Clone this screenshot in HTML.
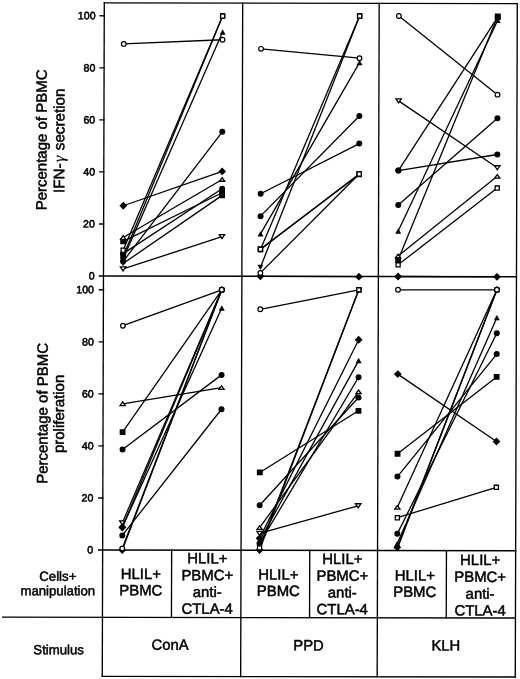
<!DOCTYPE html><html><head><meta charset="utf-8"><style>html,body{margin:0;padding:0;background:#fff;width:520px;height:679px;overflow:hidden}svg{display:block;font-family:"Liberation Sans",sans-serif;filter:grayscale(1)}</style></head><body><svg width="520" height="679" viewBox="0 0 520 679"><rect width="520" height="679" fill="#fff"/><g transform="matrix(1,0.0018,-0.003,1,0,-0.1872)"><g stroke="#000" stroke-width="1.35" fill="none" stroke-linecap="square"><line x1="104.3" y1="2.9" x2="517.3" y2="2.9"/><line x1="104.3" y1="2.9" x2="104.3" y2="676.3"/><line x1="242.7" y1="2.9" x2="242.7" y2="676.3"/><line x1="379.2" y1="2.9" x2="379.2" y2="676.3"/><line x1="517.3" y1="2.9" x2="517.3" y2="676.3"/><line x1="100.3" y1="276.0" x2="517.3" y2="276.0"/><line x1="100.3" y1="550.0" x2="517.3" y2="550.0"/><line x1="4.5" y1="617.3" x2="517.3" y2="617.3"/><line x1="104.3" y1="676.3" x2="517.3" y2="676.3"/><line x1="173.3" y1="550.0" x2="173.3" y2="617.3"/><line x1="311.4" y1="550.0" x2="311.4" y2="617.3"/><line x1="448.1" y1="550.0" x2="448.1" y2="617.3"/><line x1="100.3" y1="223.96" x2="104.3" y2="223.96"/><line x1="100.3" y1="171.92" x2="104.3" y2="171.92"/><line x1="100.3" y1="119.88" x2="104.3" y2="119.88"/><line x1="100.3" y1="67.84" x2="104.3" y2="67.84"/><line x1="100.3" y1="15.80" x2="104.3" y2="15.80"/><line x1="100.3" y1="497.96" x2="104.3" y2="497.96"/><line x1="100.3" y1="445.92" x2="104.3" y2="445.92"/><line x1="100.3" y1="393.88" x2="104.3" y2="393.88"/><line x1="100.3" y1="341.84" x2="104.3" y2="341.84"/><line x1="100.3" y1="289.80" x2="104.3" y2="289.80"/></g><g font-family="Liberation Sans" fill="#000" stroke="#000" stroke-width="0.5"><text x="95.6" y="279.60" text-anchor="end" font-size="10.6" stroke-width="0.55">0</text><text x="95.6" y="227.56" text-anchor="end" font-size="10.6" stroke-width="0.55">20</text><text x="95.6" y="175.52" text-anchor="end" font-size="10.6" stroke-width="0.55">40</text><text x="95.6" y="123.48" text-anchor="end" font-size="10.6" stroke-width="0.55">60</text><text x="95.6" y="71.44" text-anchor="end" font-size="10.6" stroke-width="0.55">80</text><text x="95.6" y="19.40" text-anchor="end" font-size="10.6" stroke-width="0.55">100</text><text x="94.9" y="553.60" text-anchor="end" font-size="10.6" stroke-width="0.55">0</text><text x="94.9" y="501.56" text-anchor="end" font-size="10.6" stroke-width="0.55">20</text><text x="94.9" y="449.52" text-anchor="end" font-size="10.6" stroke-width="0.55">40</text><text x="94.9" y="397.48" text-anchor="end" font-size="10.6" stroke-width="0.55">60</text><text x="94.9" y="345.44" text-anchor="end" font-size="10.6" stroke-width="0.55">80</text><text x="94.9" y="293.40" text-anchor="end" font-size="10.6" stroke-width="0.55">100</text><text transform="translate(47.1,140) rotate(-90)" text-anchor="middle" font-size="15">Percentage of PBMC</text><text transform="translate(64.8,140.9) rotate(-90)" text-anchor="middle" font-size="15.2">IFN-<tspan dx="1.6" font-family="Liberation Serif" font-style="italic" font-size="16" stroke-width="0.2">&#947;</tspan><tspan dx="1.2"> secretion</tspan></text><text transform="translate(48.8,413.5) rotate(-90)" text-anchor="middle" font-size="15">Percentage of PBMC</text><text transform="translate(65.2,414) rotate(-90)" text-anchor="middle" font-size="15">proliferation</text><text x="59.6" y="580.8" text-anchor="middle" font-size="13.2">Cells+</text><text x="59.6" y="595.4" text-anchor="middle" font-size="13.2">manipulation</text><text x="142.60" y="579.00" text-anchor="middle" font-size="14.9">HLIL+</text><text x="142.60" y="595.30" text-anchor="middle" font-size="14.9">PBMC</text><text x="280.15" y="579.30" text-anchor="middle" font-size="14.9">HLIL+</text><text x="280.15" y="595.60" text-anchor="middle" font-size="14.9">PBMC</text><text x="416.55" y="580.00" text-anchor="middle" font-size="14.9">HLIL+</text><text x="416.55" y="596.30" text-anchor="middle" font-size="14.9">PBMC</text><text x="209.00" y="563.20" text-anchor="middle" font-size="14.9">HLIL+</text><text x="209.00" y="580.00" text-anchor="middle" font-size="14.9">PBMC+</text><text x="209.00" y="596.80" text-anchor="middle" font-size="14.9">anti-</text><text x="209.00" y="613.60" text-anchor="middle" font-size="14.9">CTLA-4</text><text x="344.10" y="563.50" text-anchor="middle" font-size="14.9">HLIL+</text><text x="344.10" y="580.30" text-anchor="middle" font-size="14.9">PBMC+</text><text x="344.10" y="597.10" text-anchor="middle" font-size="14.9">anti-</text><text x="344.10" y="613.90" text-anchor="middle" font-size="14.9">CTLA-4</text><text x="481.90" y="564.40" text-anchor="middle" font-size="14.9">HLIL+</text><text x="481.90" y="581.20" text-anchor="middle" font-size="14.9">PBMC+</text><text x="481.90" y="598.00" text-anchor="middle" font-size="14.9">anti-</text><text x="481.90" y="614.80" text-anchor="middle" font-size="14.9">CTLA-4</text><text x="60.6" y="654.3" text-anchor="middle" font-size="13.2">Stimulus</text><text x="172.00" y="649.7" text-anchor="middle" font-size="14.8">ConA</text><text x="310.45" y="650.0" text-anchor="middle" font-size="14.8">PPD</text><text x="447.75" y="650.0" text-anchor="middle" font-size="14.8">KLH</text></g></g><g transform="matrix(1,0,-0.003,1,0,0)"><g stroke="#000" stroke-width="1.3" fill="none"><line x1="123.9" y1="43.90" x2="222.7" y2="39.74"/><line x1="123.9" y1="205.75" x2="222.7" y2="171.40"/><line x1="123.9" y1="237.49" x2="222.7" y2="179.47"/><line x1="123.9" y1="241.39" x2="222.7" y2="192.74"/><line x1="123.9" y1="253.62" x2="222.7" y2="188.83"/><line x1="123.9" y1="250.24" x2="222.7" y2="16.06"/><line x1="123.9" y1="256.49" x2="222.7" y2="16.06"/><line x1="123.9" y1="258.83" x2="222.7" y2="31.93"/><line x1="123.9" y1="261.43" x2="222.7" y2="131.85"/><line x1="123.9" y1="263.51" x2="222.7" y2="195.34"/><line x1="123.9" y1="268.97" x2="222.7" y2="236.71"/><line x1="261.2" y1="48.85" x2="359.7" y2="58.21"/><line x1="261.2" y1="193.78" x2="359.7" y2="143.56"/><line x1="261.2" y1="216.15" x2="359.7" y2="115.98"/><line x1="261.2" y1="233.85" x2="359.7" y2="62.64"/><line x1="261.2" y1="249.46" x2="359.7" y2="174.00"/><line x1="261.2" y1="248.94" x2="359.7" y2="174.52"/><line x1="261.2" y1="249.46" x2="359.7" y2="16.06"/><line x1="261.2" y1="267.41" x2="359.7" y2="16.06"/><line x1="261.2" y1="272.88" x2="359.7" y2="174.00"/><line x1="261.2" y1="276.31" x2="359.7" y2="276.65"/><line x1="398.9" y1="16.06" x2="497.8" y2="94.64"/><line x1="398.9" y1="100.89" x2="497.8" y2="167.76"/><line x1="398.9" y1="170.62" x2="497.8" y2="154.49"/><line x1="398.9" y1="170.62" x2="497.8" y2="17.10"/><line x1="398.9" y1="204.97" x2="497.8" y2="118.32"/><line x1="398.9" y1="230.99" x2="497.8" y2="20.22"/><line x1="398.9" y1="255.96" x2="497.8" y2="176.34"/><line x1="398.9" y1="259.87" x2="497.8" y2="16.32"/><line x1="398.9" y1="264.81" x2="497.8" y2="188.05"/><line x1="398.9" y1="276.52" x2="497.8" y2="276.86"/><line x1="123.9" y1="325.71" x2="222.7" y2="289.80"/><line x1="123.9" y1="403.77" x2="222.7" y2="387.64"/><line x1="123.9" y1="432.13" x2="222.7" y2="289.80"/><line x1="123.9" y1="449.56" x2="222.7" y2="374.89"/><line x1="123.9" y1="522.94" x2="222.7" y2="289.80"/><line x1="123.9" y1="527.36" x2="222.7" y2="289.80"/><line x1="123.9" y1="527.36" x2="222.7" y2="308.01"/><line x1="123.9" y1="535.43" x2="222.7" y2="409.23"/><line x1="123.9" y1="550.00" x2="222.7" y2="289.80"/><line x1="123.9" y1="548.44" x2="222.7" y2="289.80"/><line x1="261.2" y1="309.32" x2="359.7" y2="289.80"/><line x1="261.2" y1="472.46" x2="359.7" y2="410.79"/><line x1="261.2" y1="505.25" x2="359.7" y2="397.52"/><line x1="261.2" y1="527.62" x2="359.7" y2="391.80"/><line x1="261.2" y1="533.35" x2="359.7" y2="505.77"/><line x1="261.2" y1="538.29" x2="359.7" y2="339.76"/><line x1="261.2" y1="540.89" x2="359.7" y2="360.57"/><line x1="261.2" y1="543.50" x2="359.7" y2="377.23"/><line x1="261.2" y1="550.00" x2="359.7" y2="289.80"/><line x1="261.2" y1="547.92" x2="359.7" y2="289.80"/><line x1="398.9" y1="289.80" x2="497.8" y2="289.80"/><line x1="398.9" y1="374.10" x2="497.8" y2="441.50"/><line x1="398.9" y1="453.73" x2="497.8" y2="376.97"/><line x1="398.9" y1="476.62" x2="497.8" y2="354.07"/><line x1="398.9" y1="507.33" x2="497.8" y2="289.80"/><line x1="398.9" y1="517.74" x2="497.8" y2="487.29"/><line x1="398.9" y1="533.87" x2="497.8" y2="333.25"/><line x1="398.9" y1="543.50" x2="497.8" y2="317.64"/><line x1="398.9" y1="547.40" x2="497.8" y2="289.80"/><line x1="398.9" y1="548.70" x2="497.8" y2="289.80"/></g><polygon points="123.90,201.85 127.80,205.75 123.90,209.65 120.00,205.75" fill="#000"/><polygon points="222.70,167.50 226.60,171.40 222.70,175.30 218.80,171.40" fill="#000"/><rect x="121.00" y="238.49" width="5.80" height="5.80" fill="#000"/><rect x="219.80" y="189.84" width="5.80" height="5.80" fill="#000"/><circle cx="123.90" cy="253.62" r="3.00" fill="#000"/><circle cx="222.70" cy="188.83" r="3.00" fill="#000"/><rect x="121.00" y="253.59" width="5.80" height="5.80" fill="#000"/><polygon points="123.90,256.13 126.90,261.53 120.90,261.53" fill="#000"/><polygon points="222.70,29.23 225.70,34.63 219.70,34.63" fill="#000"/><circle cx="123.90" cy="261.43" r="3.00" fill="#000"/><circle cx="222.70" cy="131.85" r="3.00" fill="#000"/><polygon points="123.90,266.21 126.90,260.81 120.90,260.81" fill="#000"/><rect x="219.80" y="192.44" width="5.80" height="5.80" fill="#000"/><circle cx="261.20" cy="193.78" r="3.00" fill="#000"/><circle cx="359.70" cy="143.56" r="3.00" fill="#000"/><circle cx="261.20" cy="216.15" r="3.00" fill="#000"/><circle cx="359.70" cy="115.98" r="3.00" fill="#000"/><polygon points="261.20,231.15 264.20,236.55 258.20,236.55" fill="#000"/><polygon points="359.70,59.94 362.70,65.34 356.70,65.34" fill="#000"/><polygon points="261.20,270.11 264.20,264.71 258.20,264.71" fill="#000"/><polygon points="261.20,272.41 265.10,276.31 261.20,280.21 257.30,276.31" fill="#000"/><polygon points="359.70,272.75 363.60,276.65 359.70,280.55 355.80,276.65" fill="#000"/><circle cx="398.90" cy="170.62" r="3.00" fill="#000"/><circle cx="497.80" cy="154.49" r="3.00" fill="#000"/><circle cx="398.90" cy="170.62" r="3.00" fill="#000"/><rect x="494.90" y="14.20" width="5.80" height="5.80" fill="#000"/><circle cx="398.90" cy="204.97" r="3.00" fill="#000"/><circle cx="497.80" cy="118.32" r="3.00" fill="#000"/><polygon points="398.90,228.29 401.90,233.69 395.90,233.69" fill="#000"/><polygon points="497.80,17.52 500.80,22.92 494.80,22.92" fill="#000"/><rect x="396.00" y="256.97" width="5.80" height="5.80" fill="#000"/><rect x="494.90" y="13.42" width="5.80" height="5.80" fill="#000"/><polygon points="398.90,272.62 402.80,276.52 398.90,280.42 395.00,276.52" fill="#000"/><polygon points="497.80,272.96 501.70,276.86 497.80,280.76 493.90,276.86" fill="#000"/><rect x="121.00" y="429.23" width="5.80" height="5.80" fill="#000"/><circle cx="123.90" cy="449.56" r="3.00" fill="#000"/><circle cx="222.70" cy="374.89" r="3.00" fill="#000"/><polygon points="123.90,523.46 127.80,527.36 123.90,531.26 120.00,527.36" fill="#000"/><polygon points="123.90,523.46 127.80,527.36 123.90,531.26 120.00,527.36" fill="#000"/><polygon points="222.70,305.31 225.70,310.71 219.70,310.71" fill="#000"/><circle cx="123.90" cy="535.43" r="3.00" fill="#000"/><circle cx="222.70" cy="409.23" r="3.00" fill="#000"/><polygon points="123.90,546.10 127.80,550.00 123.90,553.90 120.00,550.00" fill="#000"/><rect x="258.30" y="469.56" width="5.80" height="5.80" fill="#000"/><rect x="356.80" y="407.89" width="5.80" height="5.80" fill="#000"/><circle cx="261.20" cy="505.25" r="3.00" fill="#000"/><circle cx="359.70" cy="397.52" r="3.00" fill="#000"/><polygon points="261.20,534.39 265.10,538.29 261.20,542.19 257.30,538.29" fill="#000"/><polygon points="359.70,335.86 363.60,339.76 359.70,343.66 355.80,339.76" fill="#000"/><polygon points="261.20,538.19 264.20,543.59 258.20,543.59" fill="#000"/><polygon points="359.70,357.87 362.70,363.27 356.70,363.27" fill="#000"/><circle cx="261.20" cy="543.50" r="3.00" fill="#000"/><circle cx="359.70" cy="377.23" r="3.00" fill="#000"/><polygon points="261.20,546.10 265.10,550.00 261.20,553.90 257.30,550.00" fill="#000"/><polygon points="398.90,370.20 402.80,374.10 398.90,378.00 395.00,374.10" fill="#000"/><polygon points="497.80,437.60 501.70,441.50 497.80,445.40 493.90,441.50" fill="#000"/><rect x="396.00" y="450.83" width="5.80" height="5.80" fill="#000"/><rect x="494.90" y="374.07" width="5.80" height="5.80" fill="#000"/><circle cx="398.90" cy="476.62" r="3.00" fill="#000"/><circle cx="497.80" cy="354.07" r="3.00" fill="#000"/><circle cx="398.90" cy="533.87" r="3.00" fill="#000"/><circle cx="497.80" cy="333.25" r="3.00" fill="#000"/><polygon points="398.90,540.79 401.90,546.20 395.90,546.20" fill="#000"/><polygon points="497.80,314.94 500.80,320.34 494.80,320.34" fill="#000"/><polygon points="398.90,543.50 402.80,547.40 398.90,551.30 395.00,547.40" fill="#000"/><polygon points="398.90,551.40 401.90,546.00 395.90,546.00" fill="#000"/><circle cx="123.90" cy="43.90" r="2.35" fill="#fff" stroke="#000" stroke-width="1.2"/><circle cx="222.70" cy="39.74" r="2.35" fill="#fff" stroke="#000" stroke-width="1.2"/><polygon points="123.90,235.69 126.50,239.29 121.30,239.29" fill="#fff" stroke="#000" stroke-width="1.3" stroke-linejoin="miter"/><polygon points="222.70,177.67 225.30,181.27 220.10,181.27" fill="#fff" stroke="#000" stroke-width="1.3" stroke-linejoin="miter"/><rect x="121.85" y="248.19" width="4.10" height="4.10" fill="#fff" stroke="#000" stroke-width="1.3"/><rect x="220.65" y="14.01" width="4.10" height="4.10" fill="#fff" stroke="#000" stroke-width="1.3"/><rect x="220.65" y="14.01" width="4.10" height="4.10" fill="#fff" stroke="#000" stroke-width="1.3"/><polygon points="123.90,270.97 126.60,266.97 121.20,266.97" fill="#fff" stroke="#000" stroke-width="1.3" stroke-linejoin="miter"/><polygon points="222.70,238.71 225.40,234.71 220.00,234.71" fill="#fff" stroke="#000" stroke-width="1.3" stroke-linejoin="miter"/><circle cx="261.20" cy="48.85" r="2.35" fill="#fff" stroke="#000" stroke-width="1.2"/><circle cx="359.70" cy="58.21" r="2.35" fill="#fff" stroke="#000" stroke-width="1.2"/><rect x="259.15" y="247.41" width="4.10" height="4.10" fill="#fff" stroke="#000" stroke-width="1.3"/><rect x="357.65" y="171.95" width="4.10" height="4.10" fill="#fff" stroke="#000" stroke-width="1.3"/><rect x="259.15" y="246.89" width="4.10" height="4.10" fill="#fff" stroke="#000" stroke-width="1.3"/><rect x="357.65" y="172.47" width="4.10" height="4.10" fill="#fff" stroke="#000" stroke-width="1.3"/><rect x="259.15" y="247.41" width="4.10" height="4.10" fill="#fff" stroke="#000" stroke-width="1.3"/><rect x="357.65" y="14.01" width="4.10" height="4.10" fill="#fff" stroke="#000" stroke-width="1.3"/><rect x="357.65" y="14.01" width="4.10" height="4.10" fill="#fff" stroke="#000" stroke-width="1.3"/><circle cx="261.20" cy="272.88" r="2.35" fill="#fff" stroke="#000" stroke-width="1.2"/><rect x="357.65" y="171.95" width="4.10" height="4.10" fill="#fff" stroke="#000" stroke-width="1.3"/><circle cx="398.90" cy="16.06" r="2.35" fill="#fff" stroke="#000" stroke-width="1.2"/><circle cx="497.80" cy="94.64" r="2.35" fill="#fff" stroke="#000" stroke-width="1.2"/><polygon points="398.90,102.89 401.60,98.89 396.20,98.89" fill="#fff" stroke="#000" stroke-width="1.3" stroke-linejoin="miter"/><polygon points="497.80,169.76 500.50,165.76 495.10,165.76" fill="#fff" stroke="#000" stroke-width="1.3" stroke-linejoin="miter"/><polygon points="398.90,254.16 401.50,257.76 396.30,257.76" fill="#fff" stroke="#000" stroke-width="1.3" stroke-linejoin="miter"/><polygon points="497.80,174.54 500.40,178.14 495.20,178.14" fill="#fff" stroke="#000" stroke-width="1.3" stroke-linejoin="miter"/><rect x="396.85" y="262.76" width="4.10" height="4.10" fill="#fff" stroke="#000" stroke-width="1.3"/><rect x="495.75" y="186.00" width="4.10" height="4.10" fill="#fff" stroke="#000" stroke-width="1.3"/><circle cx="123.90" cy="325.71" r="2.35" fill="#fff" stroke="#000" stroke-width="1.2"/><circle cx="222.70" cy="289.80" r="2.35" fill="#fff" stroke="#000" stroke-width="1.2"/><polygon points="123.90,401.97 126.50,405.57 121.30,405.57" fill="#fff" stroke="#000" stroke-width="1.3" stroke-linejoin="miter"/><polygon points="222.70,385.84 225.30,389.44 220.10,389.44" fill="#fff" stroke="#000" stroke-width="1.3" stroke-linejoin="miter"/><circle cx="222.70" cy="289.80" r="2.35" fill="#fff" stroke="#000" stroke-width="1.2"/><polygon points="123.90,524.94 126.60,520.94 121.20,520.94" fill="#fff" stroke="#000" stroke-width="1.3" stroke-linejoin="miter"/><circle cx="222.70" cy="289.80" r="2.35" fill="#fff" stroke="#000" stroke-width="1.2"/><circle cx="222.70" cy="289.80" r="2.35" fill="#fff" stroke="#000" stroke-width="1.2"/><circle cx="222.70" cy="289.80" r="2.35" fill="#fff" stroke="#000" stroke-width="1.2"/><circle cx="123.90" cy="548.44" r="2.35" fill="#fff" stroke="#000" stroke-width="1.2"/><circle cx="222.70" cy="289.80" r="2.35" fill="#fff" stroke="#000" stroke-width="1.2"/><circle cx="261.20" cy="309.32" r="2.35" fill="#fff" stroke="#000" stroke-width="1.2"/><rect x="357.65" y="287.75" width="4.10" height="4.10" fill="#fff" stroke="#000" stroke-width="1.3"/><polygon points="261.20,525.82 263.80,529.42 258.60,529.42" fill="#fff" stroke="#000" stroke-width="1.3" stroke-linejoin="miter"/><polygon points="359.70,390.00 362.30,393.60 357.10,393.60" fill="#fff" stroke="#000" stroke-width="1.3" stroke-linejoin="miter"/><polygon points="261.20,535.35 263.90,531.35 258.50,531.35" fill="#fff" stroke="#000" stroke-width="1.3" stroke-linejoin="miter"/><polygon points="359.70,507.77 362.40,503.77 357.00,503.77" fill="#fff" stroke="#000" stroke-width="1.3" stroke-linejoin="miter"/><rect x="357.65" y="287.75" width="4.10" height="4.10" fill="#fff" stroke="#000" stroke-width="1.3"/><rect x="259.15" y="545.87" width="4.10" height="4.10" fill="#fff" stroke="#000" stroke-width="1.3"/><rect x="357.65" y="287.75" width="4.10" height="4.10" fill="#fff" stroke="#000" stroke-width="1.3"/><circle cx="398.90" cy="289.80" r="2.35" fill="#fff" stroke="#000" stroke-width="1.2"/><circle cx="497.80" cy="289.80" r="2.35" fill="#fff" stroke="#000" stroke-width="1.2"/><polygon points="398.90,505.53 401.50,509.13 396.30,509.13" fill="#fff" stroke="#000" stroke-width="1.3" stroke-linejoin="miter"/><circle cx="497.80" cy="289.80" r="2.35" fill="#fff" stroke="#000" stroke-width="1.2"/><rect x="396.85" y="515.69" width="4.10" height="4.10" fill="#fff" stroke="#000" stroke-width="1.3"/><rect x="495.75" y="485.24" width="4.10" height="4.10" fill="#fff" stroke="#000" stroke-width="1.3"/><circle cx="497.80" cy="289.80" r="2.35" fill="#fff" stroke="#000" stroke-width="1.2"/><circle cx="497.80" cy="289.80" r="2.35" fill="#fff" stroke="#000" stroke-width="1.2"/></g></svg></body></html>
